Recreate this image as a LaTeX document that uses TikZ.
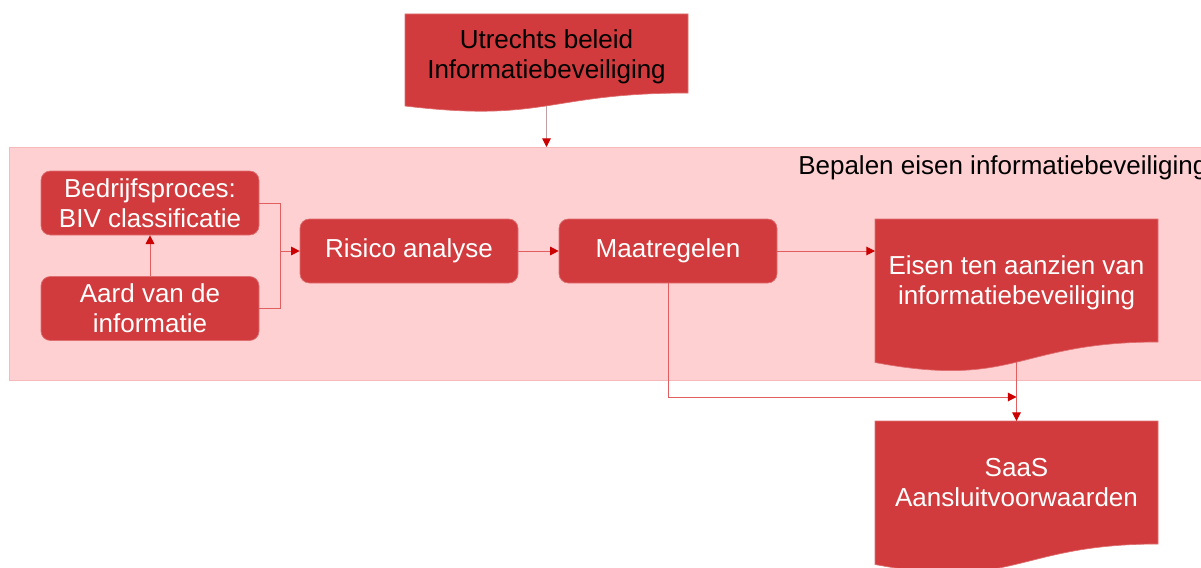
\documentclass[tikz,border=0pt]{standalone}
\usepackage{fontspec}
\setmainfont{Liberation Sans}
\usetikzlibrary{arrows.meta}
\definecolor{boxred}{RGB}{209,59,61}
\definecolor{boxedge}{RGB}{222,110,112}
\definecolor{bgpink}{RGB}{255,208,210}
\definecolor{bgedge}{RGB}{245,185,188}
\definecolor{linered}{RGB}{225,95,97}
\definecolor{tipred}{RGB}{204,0,0}
\definecolor{greyline}{RGB}{190,160,163}
\begin{document}
\begin{tikzpicture}[x=0.75pt,y=-0.75pt,
  txt/.style={font=\fontsize{19.5}{22.5}\selectfont, align=center, inner sep=0pt},
  procbox/.style={txt, rectangle, rounded corners=7pt, fill=boxred, draw=boxedge, line width=0.5pt,
    text=white, minimum width=163.5pt, minimum height=48pt},
  docfill/.style={fill=boxred, draw=boxedge, line width=0.5pt},
  lineonly/.style={draw=linered, line width=0.75pt},
  conn/.style={lineonly, -{Triangle[length=6.5pt,width=6.5pt,fill=tipred,color=tipred]}}]
\useasboundingbox (0,0) rectangle (1201,567);

% group background
\fill[bgpink, draw=bgedge, line width=0.5pt] (9,147) rectangle (1215,380);
\node[txt, anchor=west, text=black] (grouplabel) at (798,168) {Bepalen eisen informatiebeveiliging};

% top document
\path[docfill] (405,14) -- (688,14) -- (688,93) .. controls (546.5,93) and (546.5,123) .. (405,106) -- cycle;
\node[txt, text=black] (beleid) at (546.5,56.5) {Utrechts beleid\\Informatiebeveiliging};
\coordinate (beleidbot) at (546.5,106);
\coordinate (grouptop) at (546.5,147);

% process boxes
\node[procbox] (biv) at (150,203) {Bedrijfsproces:\\BIV classificatie};
\node[procbox] (aard) at (150,308.5) {Aard van de\\informatie};
\node[procbox] (risico) at (409,251) {Risico analyse};
\node[procbox] (maat) at (668,251) {Maatregelen};
\coordinate (merge) at (280,251);

% Eisen document
\path[docfill] (875,219) -- (1158,219) -- (1158,342) .. controls (1016.5,342) and (1016.5,389) .. (875,362.5) -- cycle;
\node[txt, text=white] (eisen) at (1016.5,283) {Eisen ten aanzien van\\informatiebeveiliging};
\coordinate (eisenin) at (875,251);
\coordinate (eisenbot) at (1016.5,362);

% SaaS document
\path[docfill] (875,421) -- (1158,421) -- (1158,544) .. controls (1016.5,544) and (1016.5,591) .. (875,564.5) -- cycle;
\node[txt, text=white] (saas) at (1016.5,483) {SaaS\\Aansluitvoorwaarden};
\coordinate (saastop) at (1016.5,421);
\coordinate (join) at (1016.5,397);

% connectors
\draw[conn, draw=greyline] (beleidbot) -- (grouptop);
\draw[conn] (aard.north) -- (biv.south);
\draw[lineonly] (aard.east) -| (merge);
\draw[conn] (biv.east) -| (merge) -- (risico.west);
\draw[conn] (risico.east) -- (maat.west);
\draw[conn] (maat.east) -- (eisenin);
\draw[conn] (maat.south) |- (join);
\draw[conn] (eisenbot) -- (saastop);
\end{tikzpicture}
\end{document}
